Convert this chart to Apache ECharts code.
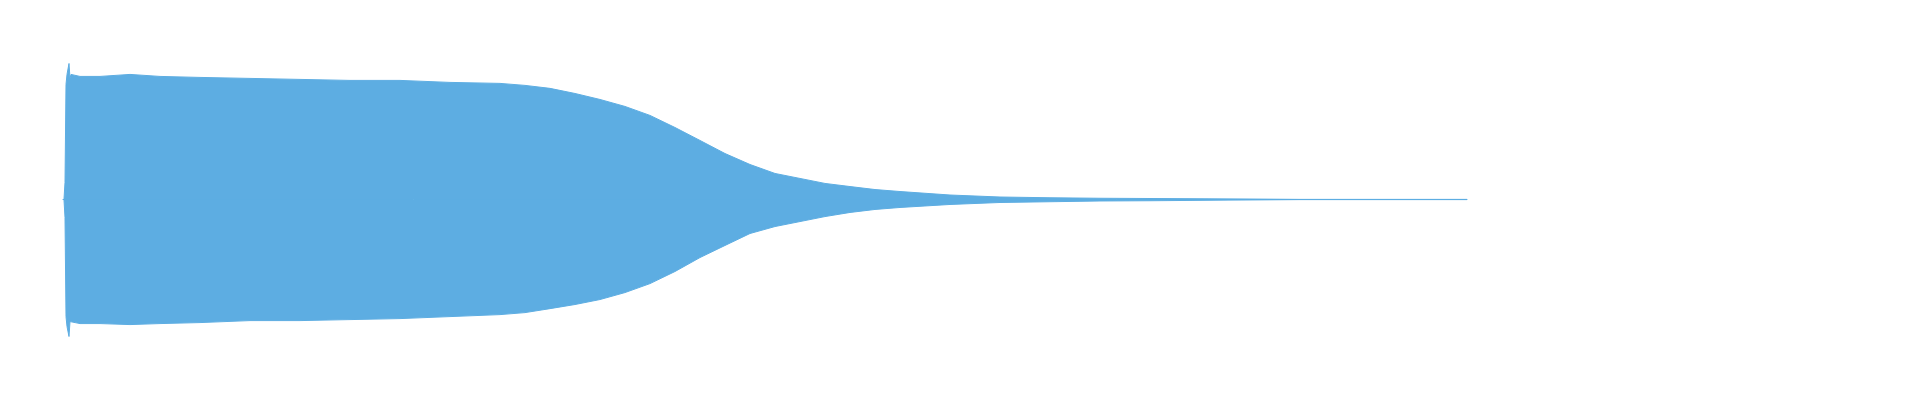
<!DOCTYPE html>
<html lang="en">
<head>
  <meta charset="UTF-8">
  <title>Waveform</title>
  <script src="https://cdn.jsdelivr.net/npm/echarts/dist/echarts.min.js"></script>
  <style>
    html, body { margin: 0; padding: 0; background: #fff; }
    #chart { width: 1920px; height: 400px; }
  </style>
</head>
<body>
<div id="chart"></div>
<script>
  // time (s) and envelope of the signal
  var times = [0.01, 0.02, 0.03, 0.04, 0.05, 0.06, 0.07, 0.08, 0.17, 0.37, 0.67, 0.97,
    1.37, 1.87, 2.37, 2.87, 3.37, 3.87, 4.37, 4.62, 4.87, 5.12, 5.37, 5.62, 5.87,
    6.12, 6.37, 6.62, 6.87, 7.12, 7.37, 7.62, 7.87, 8.12, 8.37, 8.87, 9.37, 9.87,
    10.37, 10.87, 11.67, 12.37, 14.04];
  // positive peaks
  var upper = [0.004, 0.137, 0.924, 1.004, 0.996, 1.092, 0.972, 1.004, 0.988, 0.988, 1.004, 0.988,
    0.980, 0.972, 0.964, 0.956, 0.956, 0.940, 0.932, 0.916, 0.892, 0.851, 0.803, 0.747, 0.675,
    0.578, 0.474, 0.369, 0.281, 0.209, 0.169, 0.129, 0.104, 0.080, 0.064, 0.036, 0.020, 0.014,
    0.010, 0.008, 0.005, 0.001, 0.001];
  // negative peaks (magnitude)
  var lower = [0.004, 0.145, 0.940, 1.020, 1.012, 1.100, 0.980, 0.996, 0.996, 0.996, 1.004, 0.996,
    0.988, 0.972, 0.972, 0.964, 0.956, 0.940, 0.924, 0.908, 0.876, 0.843, 0.803, 0.747, 0.675,
    0.578, 0.466, 0.369, 0.273, 0.217, 0.177, 0.137, 0.104, 0.080, 0.064, 0.040, 0.024, 0.018,
    0.012, 0.010, 0.005, 0.001, 0.001];

  var color = '#5dade2';
  var chart = echarts.init(document.getElementById('chart'));

  var option = {
    animation: false,
    grid: { left: 63, top: 50, width: 1404, height: 299 },
    xAxis: {
      type: 'value',
      min: 0,
      max: 14.04,
      // zero line, also hides the seam between the two halves
      axisLine: { onZero: true, lineStyle: { color: color, width: 1 } },
      axisTick: { show: false },
      axisLabel: { show: false },
      splitLine: { show: false }
    },
    yAxis: {
      type: 'value',
      min: -1.2,
      max: 1.2,
      show: false
    },
    series: [
      {
        type: 'line',
        data: times.map((t, i) => [t, upper[i]]),
        symbol: 'none',
        lineStyle: { color: color, width: 1 },
        areaStyle: { color: color, opacity: 1 }
      },
      {
        type: 'line',
        data: times.map((t, i) => [t, -lower[i]]),
        symbol: 'none',
        lineStyle: { color: color, width: 1 },
        areaStyle: { color: color, opacity: 1 }
      }
    ]
  };

  chart.setOption(option);
</script>
</body>
</html>
